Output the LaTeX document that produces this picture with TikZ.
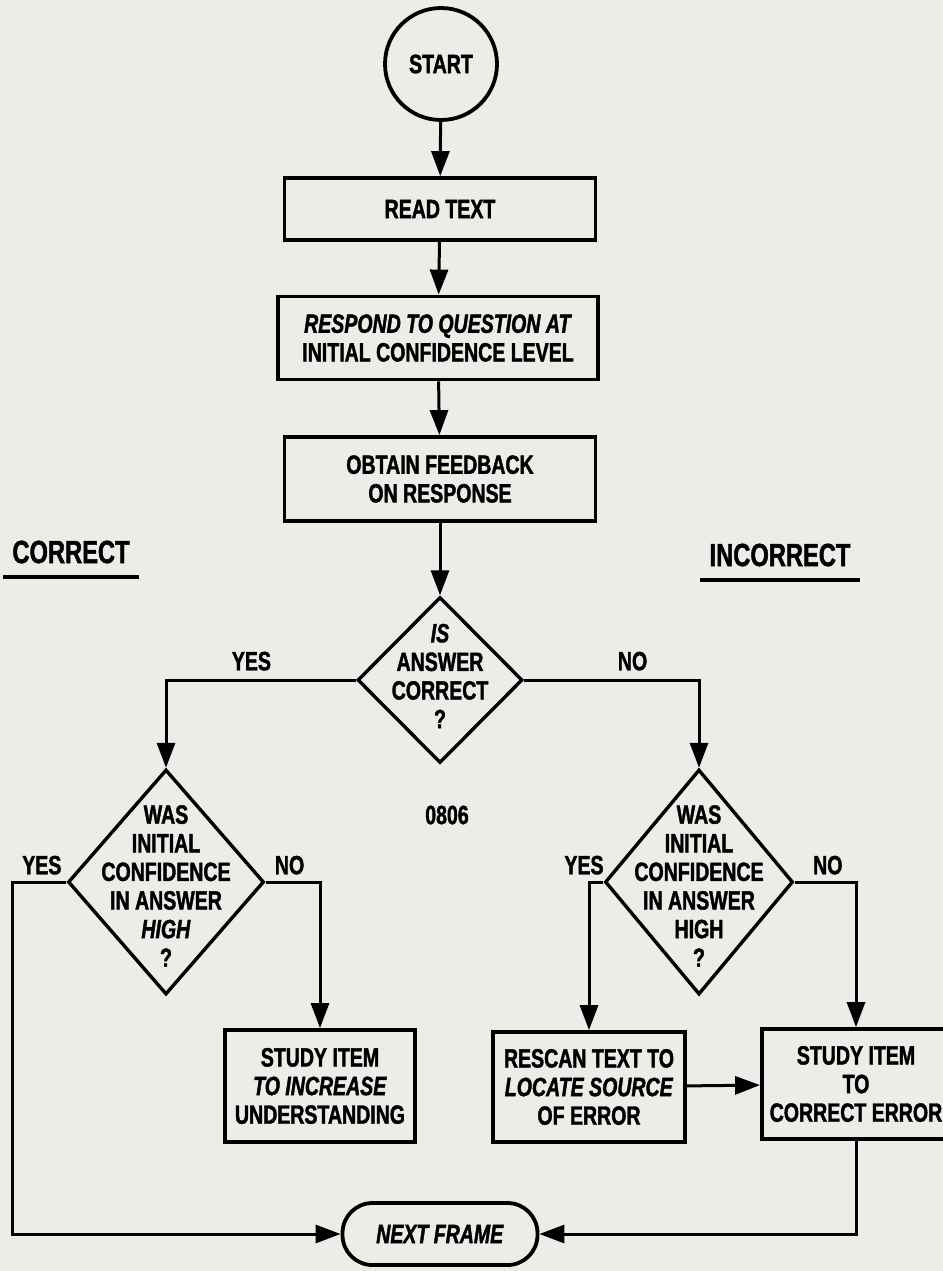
\documentclass[tikz,border=0pt]{standalone}
\usepackage{fontspec}
\setmainfont{Liberation Sans}[FakeStretch=0.74, BoldFeatures={FakeBold=1.5}, BoldItalicFeatures={FakeBold=1.5}]
\usepackage{tikz}
\usepackage{color}
\usetikzlibrary{shapes,arrows.meta}
\definecolor{paper}{RGB}{236,236,233}
\newcommand{\tikzHeadingNode}[3]{
  \node[heading] (#1) at (#2) {#3};
  \draw[line width=2pt] ([xshift=-4pt,yshift=-6pt]#1.south west) -- ([xshift=4pt,yshift=-6pt]#1.south east);
}

\begin{document}
\begin{tikzpicture}[x=0.5pt, y=-0.5pt, line width=1.5pt,
    txt/.style={font=\fontsize{13.2}{14.3}\selectfont\bfseries, align=center, inner sep=0pt},
    heading/.style={font=\fontsize{16}{17}\selectfont\bfseries, inner sep=0pt},
    box/.style={txt, draw, line width=1.9pt, rectangle},
    decision/.style={draw, line width=1.7pt, diamond, inner sep=0pt},
    arr/.style={-{Triangle[length=12.5pt,width=9pt]}}]
  \useasboundingbox[fill=paper] (0,0) rectangle (943,1271);

  \node [txt, draw, line width=1.9pt, circle, minimum size=56pt] (start) at (441,64) {START};
  \node [box, minimum width=155.5pt, minimum height=31pt] (read) at (440,209) {READ TEXT};
  \node [box, minimum width=160pt, minimum height=41.5pt] (respond) at (438,338)
    {\textit{RESPOND TO QUESTION AT}\\INITIAL CONFIDENCE LEVEL};
  \node [box, minimum width=155.5pt, minimum height=42pt] (obtain) at (440,479) {OBTAIN FEEDBACK\\ON RESPONSE};

  \node [decision, minimum width=82.5pt, minimum height=83pt] (isans) at (440,680) {};
  \node [txt] (isanst) at (440,676) {\textit{IS}\\ANSWER\\CORRECT\\?};

  \node [decision, minimum width=98pt, minimum height=112.5pt] (wasl) at (166,882) {};
  \node [txt] (waslt) at (166,886) {WAS\\INITIAL\\CONFIDENCE\\IN ANSWER\\\textit{HIGH}\\?};
  \node [decision, minimum width=94pt, minimum height=112.5pt] (wasr) at (699,882) {};
  \node [txt] (wasrt) at (699,886) {WAS\\INITIAL\\CONFIDENCE\\IN ANSWER\\HIGH\\?};

  \node [box, minimum width=95pt, minimum height=56pt] (studya) at (320,1086)
    {STUDY ITEM\\\textit{TO INCREASE}\\UNDERSTANDING};
  \node [box, minimum width=96pt, minimum height=55pt] (rescan) at (589,1087)
    {RESCAN TEXT TO\\\textit{LOCATE SOURCE}\\OF ERROR};
  \node [box, minimum width=94pt, minimum height=55pt] (studyb) at (856,1084)
    {STUDY ITEM\\TO\\CORRECT ERROR};
  \node [box, rounded corners=15pt, minimum width=97.5pt, minimum height=31pt] (next) at (440,1234)
    {\textit{NEXT FRAME}};

  \tikzHeadingNode{correct}{71,552}{CORRECT}
  \tikzHeadingNode{incorrect}{780,555}{INCORRECT}
  \node [txt] (code) at (447,815) {0806};

  \path [arr] (start) edge (read);
  \path [arr] (read) edge (respond);
  \path [arr] (respond) edge (obtain);
  \path [arr] (obtain) edge (isans);

  \draw [arr] (isans.west) -| node [txt, pos=0.275, above=4pt] (yes1) {YES} (wasl.north);
  \draw [arr] (isans.east) -| node [txt, pos=0.31, above=4pt] (no1) {NO} (wasr.north);

  \coordinate (lcorner) at (12,882);
  \draw [arr] (wasl.west) -- node [txt, pos=0.45, above=3pt] (yes2) {YES} (lcorner) |- (next.west);
  \draw [arr] (wasl.east) -| node [txt, pos=0.22, above=3pt] (no2) {NO} (studya.north);
  \draw [arr] (wasr.west) -| node [txt, pos=0.5, above=3pt, xshift=-2.5pt] (yes3) {YES} (rescan.north);
  \draw [arr] (wasr.east) -| node [txt, pos=0.27, above=3pt] (no3) {NO} (studyb.north);

  \path [arr] (rescan) edge (studyb);
  \draw [arr] (studyb.south) |- (next.east);

\end{tikzpicture}
\end{document}
